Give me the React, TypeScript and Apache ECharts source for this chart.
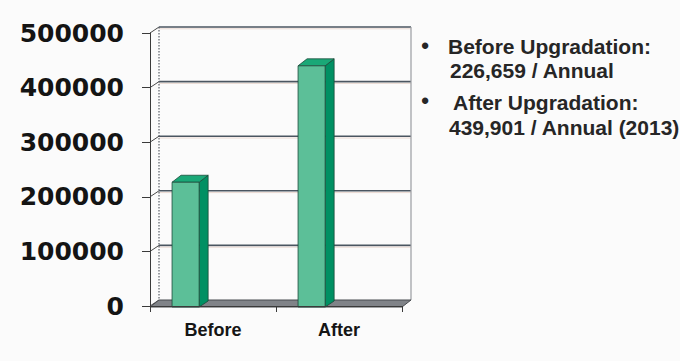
import React, { useEffect, useRef } from 'react';
import * as echarts from 'echarts';

// Annual figures before and after the upgrade
const categories = ['Before', 'After'];
const annualValues = [226659, 439901];

// Value axis
const axisMin = 0;
const axisMax = 500000;
const axisStep = 100000;
const wallTicks = [0, 100000, 200000, 300000, 400000, 500000];

// Side notes
const noteHeads = ['Before Upgradation:', 'After Upgradation:'];
const noteTails = [' / Annual', ' / Annual (2013)'];

// Offset of the back wall relative to the front plane (pseudo 3D)
const DEPTH_X = 9;
const DEPTH_Y = -6;
// Offset of a bar's back face relative to its front face
const BAR_DX = 9;
const BAR_DY = -7;

const NOTE_FONT = 'bold 21px "Liberation Sans", Arial, sans-serif';
const NOTE_COLOR = '#262626';

function wallItem(params: any, api: any) {
  const cs = params.coordSys;
  const v = api.value(1);
  const y = api.coord([0, v])[1];
  const x0 = cs.x;
  const x1 = cs.x + cs.width;
  const children: any[] = [
    {
      type: 'line',
      shape: { x1: x0, y1: y, x2: x0 + DEPTH_X, y2: y + DEPTH_Y },
      style: { stroke: '#4a4a4a', lineWidth: 1 },
    },
  ];
  if (v !== 0) {
    children.push({
      type: 'line',
      shape: { x1: x0 + DEPTH_X, y1: y + DEPTH_Y, x2: x1 + DEPTH_X, y2: y + DEPTH_Y },
      style: { stroke: '#4b5661', lineWidth: 1.6 },
    });
    children.push({
      type: 'line',
      shape: { x1: x0 + DEPTH_X, y1: y + DEPTH_Y + 1.8, x2: x1 + DEPTH_X, y2: y + DEPTH_Y + 1.8 },
      style: { stroke: '#ead9d2', lineWidth: 1 },
    });
  }
  return { type: 'group', children };
}

function frameItem(params: any, api: any) {
  const cs = params.coordSys;
  const x0 = cs.x;
  const x1 = cs.x + cs.width;
  const yTop = api.coord([0, axisMax])[1];
  const yBase = api.coord([0, axisMin])[1];
  return {
    type: 'group',
    children: [
      {
        type: 'line',
        shape: { x1: x0 + DEPTH_X, y1: yTop + DEPTH_Y, x2: x0 + DEPTH_X, y2: yBase + DEPTH_Y },
        style: { stroke: '#5a6068', lineWidth: 1.2, lineDash: [1.5, 1.5] },
      },
      {
        type: 'line',
        shape: { x1: x1 + DEPTH_X, y1: yTop + DEPTH_Y, x2: x1 + DEPTH_X, y2: yBase + DEPTH_Y },
        style: { stroke: '#9a9da2', lineWidth: 1.2 },
      },
      {
        type: 'polygon',
        shape: {
          points: [
            [x0, yBase + 1],
            [x1, yBase + 1],
            [x1 + DEPTH_X, yBase + DEPTH_Y],
            [x0 + DEPTH_X, yBase + DEPTH_Y],
          ],
        },
        style: { fill: '#808388', stroke: '#474a4e', lineWidth: 1 },
      },
    ],
  };
}

function barItem(params: any, api: any) {
  const idx = api.value(0);
  const [cx, top] = api.coord([idx, api.value(1)]);
  const bottom = api.coord([idx, 0])[1] + 1;
  const band = api.size([1, 0])[0];
  const L = cx - band * 0.325;
  const R = L + band * 0.215;
  const edge = { stroke: '#1b4a3a', lineWidth: 0.8 };
  return {
    type: 'group',
    children: [
      {
        type: 'polygon',
        shape: {
          points: [
            [R, top],
            [R + BAR_DX, top + BAR_DY],
            [R + BAR_DX, bottom + DEPTH_Y],
            [R, bottom],
          ],
        },
        style: { fill: '#009063', ...edge },
      },
      {
        type: 'polygon',
        shape: {
          points: [
            [L, top],
            [L + BAR_DX, top + BAR_DY],
            [R + BAR_DX, top + BAR_DY],
            [R, top],
          ],
        },
        style: { fill: '#1aa877', ...edge },
      },
      {
        type: 'rect',
        shape: { x: L, y: top, width: R - L, height: bottom - top },
        style: { fill: '#5cbf98', ...edge },
      },
    ],
  };
}

function noteElements() {
  const els: any[] = [];
  const rows = [
    { bulletY: 45, headX: 448, headY: 46, tailX: 450, tailY: 70 },
    { bulletY: 100, headX: 453, headY: 102, tailX: 449, tailY: 127 },
  ];
  rows.forEach((r, i) => {
    els.push({
      type: 'text',
      x: 425,
      y: r.bulletY,
      style: {
        text: '\u2022',
        font: 'bold 22px "Liberation Sans", Arial, sans-serif',
        fill: NOTE_COLOR,
        align: 'center',
        verticalAlign: 'middle',
        textAlign: 'center',
        textVerticalAlign: 'middle',
      },
    });
    els.push({
      type: 'text',
      x: r.headX,
      y: r.headY,
      style: {
        text: noteHeads[i],
        font: NOTE_FONT,
        fill: NOTE_COLOR,
        align: 'left',
        verticalAlign: 'middle',
        textAlign: 'left',
        textVerticalAlign: 'middle',
      },
    });
    els.push({
      type: 'text',
      x: r.tailX,
      y: r.tailY,
      style: {
        text: annualValues[i].toLocaleString('en-US') + noteTails[i],
        font: NOTE_FONT,
        fill: NOTE_COLOR,
        align: 'left',
        verticalAlign: 'middle',
        textAlign: 'left',
        textVerticalAlign: 'middle',
      },
    });
  });
  return els;
}

export default function App() {
  const ref = useRef<HTMLDivElement>(null);

  useEffect(() => {
    document.body.style.margin = '0';
    const chart = echarts.init(ref.current!, null, { renderer: 'svg' });
    chart.setOption({
      animation: false,
      backgroundColor: '#fbfbfb',
      grid: { left: 150, top: 33, width: 252, height: 273 },
      xAxis: {
        type: 'category',
        data: categories,
        boundaryGap: true,
        z: 10,
        axisLine: { show: true, lineStyle: { color: '#3a3a3a', width: 1 } },
        axisTick: { show: true, length: 6, interval: 0, alignWithLabel: false, lineStyle: { color: '#3a3a3a' } },
        axisLabel: {
          margin: 15,
          fontFamily: '"Liberation Sans", Arial, sans-serif',
          fontWeight: 'bold',
          fontSize: 18,
          color: '#151515',
        },
        splitLine: { show: false },
      },
      yAxis: {
        type: 'value',
        min: axisMin,
        max: axisMax,
        interval: axisStep,
        z: 10,
        axisLine: { show: true, lineStyle: { color: '#3a3a3a', width: 1 } },
        axisTick: { show: true, length: 8, lineStyle: { color: '#3a3a3a' } },
        axisLabel: {
          margin: 26,
          padding: [4, 0, 0, 0],
          formatter: (v: number) => String(v),
          fontFamily: '"DejaVu Sans", Verdana, sans-serif',
          fontWeight: 'bold',
          fontSize: 25,
          color: '#141414',
        },
        splitLine: { show: false },
      },
      series: [
        {
          type: 'custom',
          name: 'wall',
          z: 1,
          clip: false,
          silent: true,
          renderItem: wallItem,
          data: wallTicks.map((v) => [0, v]),
          encode: { x: 0, y: 1 },
        },
        {
          type: 'custom',
          name: 'frame',
          z: 2,
          clip: false,
          silent: true,
          renderItem: frameItem,
          data: [[0, 0]],
          encode: { x: 0, y: 1 },
        },
        {
          type: 'custom',
          name: 'Annual',
          z: 3,
          clip: false,
          renderItem: barItem,
          data: annualValues.map((v, i) => [i, v]),
          encode: { x: 0, y: 1 },
        },
      ],
      graphic: { elements: noteElements() },
    });
    return () => chart.dispose();
  }, []);

  return <div ref={ref} style={{ width: 680, height: 361 }} />;
}
